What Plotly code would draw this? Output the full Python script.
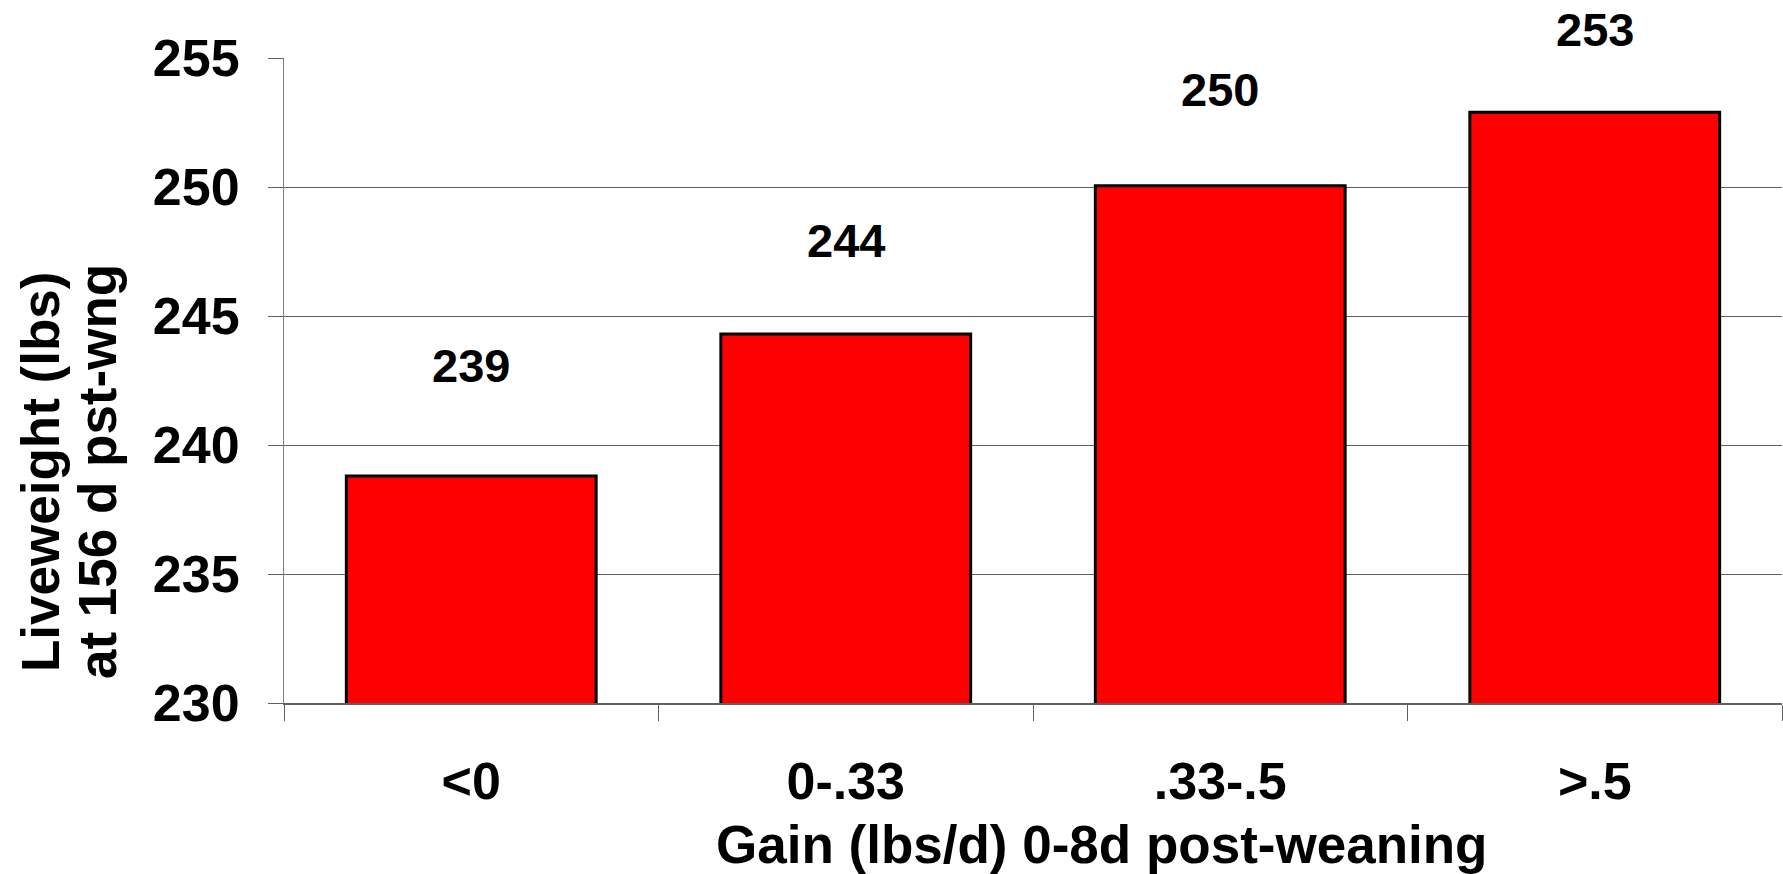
import plotly.graph_objects as go

categories = ["<0", "0-.33", ".33-.5", ">.5"]
liveweight = [238.8, 244.3, 250.05, 252.9]
value_labels = ["239", "244", "250", "253"]
y_ticks = [230, 235, 240, 245, 250, 255]

# style: label pixel offsets above bar tops
label_shift = [110, 94, 96, 83]

FONT = "Liberation Sans, Arial, sans-serif"

fig = go.Figure()
fig.add_trace(go.Bar(
    x=categories, y=liveweight,
    marker=dict(color="#FF0000", line=dict(color="#000000", width=3)),
    showlegend=False, hoverinfo="skip",
))

ann = []
for c, v, t, s in zip(categories, liveweight, value_labels, label_shift):
    ann.append(dict(x=c, y=v, xref="x", yref="y", text=t, showarrow=False,
                    yanchor="middle", yshift=s,
                    font=dict(family=FONT, size=47, color="black", weight="bold")))

# y title (two lines)
ann.append(dict(xref="paper", yref="paper", x=0, y=0.358, xshift=-244, text="Liveweight (lbs)",
                textangle=-90, showarrow=False, xanchor="center", yanchor="middle",
                font=dict(family=FONT, size=53, color="black", weight="bold")))
ann.append(dict(xref="paper", yref="paper", x=0, y=0.358, xshift=-187, text="at 156 d pst-wng",
                textangle=-90, showarrow=False, xanchor="center", yanchor="middle",
                font=dict(family=FONT, size=53, color="black", weight="bold")))
# x title
ann.append(dict(xref="paper", yref="paper", x=0.546, y=0, yshift=-141, text="Gain (lbs/d) 0-8d post-weaning",
                showarrow=False, xanchor="center", yanchor="middle",
                font=dict(family=FONT, size=53, color="black", weight="bold")))

fig.update_layout(
    width=1783, height=874,
    margin=dict(l=284, r=1, t=58, b=171),
    paper_bgcolor="white", plot_bgcolor="white",
    bargap=0.333,
    annotations=ann,
)
fig.update_xaxes(
    type="category", range=[-0.5, 3.5],
    showline=True, linecolor="#606060", linewidth=1.5,
    ticks="outside", tickson="boundaries", ticklen=16, tickcolor="#606060", tickwidth=1,
    tickfont=dict(family=FONT, size=52, color="black", weight="bold"),
    ticklabelstandoff=32,
    showgrid=False,
)
fig.update_yaxes(
    range=[230, 255], tickvals=y_ticks,
    showline=True, linecolor="#808080", linewidth=1,
    ticks="outside", ticklen=15, tickcolor="#606060", tickwidth=1,
    tickfont=dict(family=FONT, size=52, color="black", weight="bold"),
    ticklabelstandoff=18,
    showgrid=True, gridcolor="#606060", gridwidth=1.2,
    zeroline=False,
)

fig.write_html("out.html", config={"displayModeBar": False},
               post_script="document.body.style.margin='0';document.body.style.overflow='hidden';")
